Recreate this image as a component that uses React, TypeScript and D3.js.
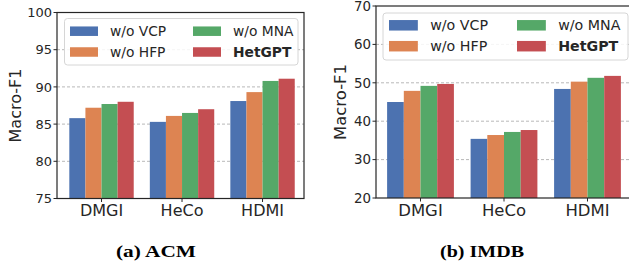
import * as d3 from 'd3';

const GROUPS = ['DMGI', 'HeCo', 'HDMI'];
const SERIES = ['w/o VCP', 'w/o HFP', 'w/o MNA', 'HetGPT'];
const COLORS = ['#4C72B0', '#DD8452', '#55A868', '#C44E52'];

const ACM_VALUES = [
  [85.8, 85.3, 88.1],
  [87.2, 86.1, 89.3],
  [87.7, 86.5, 90.8],
  [88.0, 87.0, 91.1],
];
const ACM_TICKS = [75, 80, 85, 90, 95, 100];

const IMDB_VALUES = [
  [45.0, 35.4, 48.4],
  [47.9, 36.4, 50.3],
  [49.2, 37.2, 51.3],
  [49.7, 37.7, 51.8],
];
const IMDB_TICKS = [20, 30, 40, 50, 60, 70];

const SANS = 'DejaVu Sans, sans-serif';

interface PanelProps {
  id: string;
  values: number[][];
  ticks: number[];
  left: number;
  right: number;
  top: number;
  bottom: number;
  xMin: number;
  xMax: number;
  labelX: number;
  k: number; // font scale of this panel
  legend: { x: number; y: number; w: number; h: number; rowY: number[]; col: number[]; ph: number };
  caption: string;
  captionX: number;
  captionW: number;
}

function Panel(p: PanelProps) {
  const y = d3
    .scaleLinear()
    .domain([p.ticks[0], p.ticks[p.ticks.length - 1]])
    .range([p.bottom, p.top]);
  const x = d3.scaleLinear().domain([p.xMin, p.xMax]).range([p.left, p.right]);
  const barW = x(0.2) - x(0);
  const k = p.k;

  return (
    <g>
      <defs>
        <clipPath id={`clip-${p.id}`}>
          <rect x={p.left} y={p.top} width={p.right - p.left} height={p.bottom - p.top} />
        </clipPath>
      </defs>
      {/* grid */}
      {p.ticks.slice(1, -1).map((t) => (
        <line
          key={t}
          x1={p.left}
          x2={p.right}
          y1={y(t)}
          y2={y(t)}
          stroke="#b8b8b8"
          strokeWidth={1}
          strokeDasharray="3,2"
        />
      ))}
      {/* bars */}
      <g clipPath={`url(#clip-${p.id})`}>
        {SERIES.map((s, si) =>
          GROUPS.map((g, gi) => {
            const v = p.values[si][gi];
            const bx = x(gi - 0.4 + si * 0.2);
            return (
              <rect
                key={`${s}-${g}`}
                x={bx}
                y={y(v)}
                width={barW}
                height={p.bottom - y(v)}
                fill={COLORS[si]}
              />
            );
          }),
        )}
      </g>
      {/* frame */}
      <rect
        x={p.left}
        y={p.top}
        width={p.right - p.left}
        height={p.bottom - p.top}
        fill="none"
        stroke="#262626"
        strokeWidth={1.2}
      />
      {/* y ticks */}
      {p.ticks.map((t) => (
        <g key={t}>
          <line x1={p.left - 3.5} x2={p.left} y1={y(t)} y2={y(t)} stroke="#262626" strokeWidth={1} />
          <text
            x={p.left - 5}
            y={y(t)}
            dy="0.36em"
            textAnchor="end"
            fontFamily={SANS}
            fontSize={13 * k}
            fill="#262626"
          >
            {t}
          </text>
        </g>
      ))}
      {/* x ticks */}
      {GROUPS.map((g, gi) => (
        <g key={g}>
          <line x1={x(gi)} x2={x(gi)} y1={p.bottom} y2={p.bottom + 3.5} stroke="#262626" strokeWidth={1} />
          <text
            x={x(gi)}
            y={216}
            textAnchor="middle"
            fontFamily={SANS}
            fontSize={16 * k}
            fill="#262626"
          >
            {g}
          </text>
        </g>
      ))}
      <text
        transform={`translate(${p.labelX},${(p.top + p.bottom) / 2}) rotate(-90)`}
        textAnchor="middle"
        dy="0.36em"
        fontFamily={SANS}
        fontSize={16 * k}
        fill="#262626"
      >
        Macro-F1
      </text>
      {/* legend */}
      <rect
        x={p.legend.x}
        y={p.legend.y}
        width={p.legend.w}
        height={p.legend.h}
        rx={3}
        fill="#ffffff"
        fillOpacity={0.85}
        stroke="#d6d6d6"
        strokeWidth={1}
      />
      {SERIES.map((s, si) => {
        const col = Math.floor(si / 2);
        const row = si % 2;
        const lx = p.legend.col[col];
        const ly = p.legend.rowY[row];
        return (
          <g key={s}>
            <rect x={lx} y={ly - p.legend.ph / 2} width={28 * k} height={p.legend.ph} fill={COLORS[si]} />
            <text
              x={lx + 40 * k}
              y={ly}
              dy="0.36em"
              fontFamily={SANS}
              fontSize={13.8 * k}
              fontWeight={s === 'HetGPT' ? 'bold' : 'normal'}
              fill="#262626"
            >
              {s}
            </text>
          </g>
        );
      })}
      <text
        x={p.captionX - p.captionW / 2}
        y={256.5}
        textLength={p.captionW}
        lengthAdjust="spacingAndGlyphs"
        fontFamily="Liberation Serif, serif"
        fontWeight="bold"
        fontSize={16}
        fill="#000"
      >
        {p.caption}
      </text>
    </g>
  );
}

export default function App() {
  return (
    <svg
      width={629}
      height={267}
      style={{ position: 'absolute', left: 0, top: 0, background: '#fff' }}
    >
      <rect width={629} height={267} fill="#fff" />
      <Panel
        id="acm"
        values={ACM_VALUES}
        ticks={ACM_TICKS}
        left={57}
        right={304}
        top={12.5}
        bottom={198.5}
        xMin={-0.553}
        xMax={2.515}
        labelX={15}
        k={1}
        legend={{ x: 64.5, y: 18.5, w: 233.5, h: 46.5, rowY: [31.2, 52], col: [70, 193], ph: 9.5 }}
        caption="(a) ACM"
        captionX={156}
        captionW={80}
      />
      <Panel
        id="imdb"
        values={IMDB_VALUES}
        ticks={IMDB_TICKS}
        left={376}
        right={632}
        top={6}
        bottom={198}
        xMin={-0.533}
        xMax={2.533}
        labelX={340}
        k={1.03}
        legend={{ x: 383, y: 13, w: 245, h: 47, rowY: [25.3, 46.2], col: [389, 517], ph: 10.5 }}
        caption="(b) IMDB"
        captionX={482}
        captionW={84}
      />
    </svg>
  );
}
